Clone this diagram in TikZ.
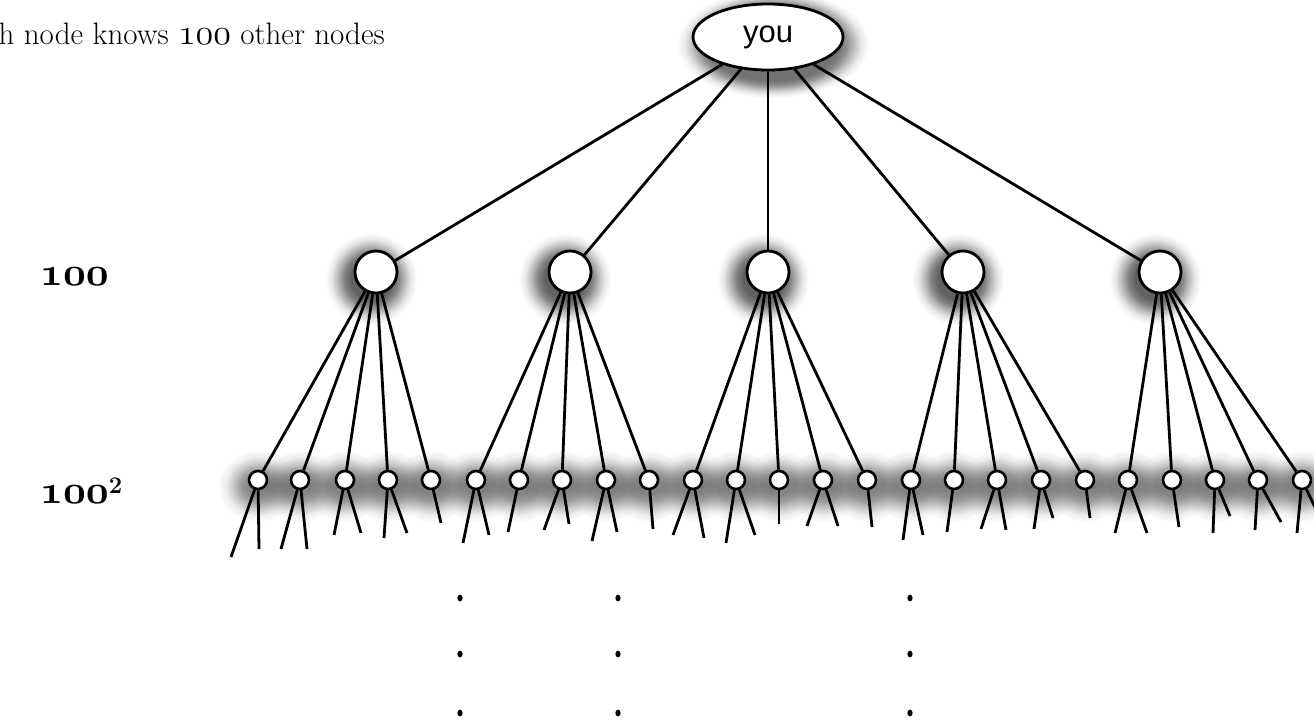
\documentclass[tikz,border=0pt]{standalone}
\usepackage{fontspec}
\newfontfamily\helvfont{Liberation Sans}
\usetikzlibrary{shapes.geometric,fadings}
\newcommand\osnum[2]{\scalebox{#1}{\fontencoding{OML}\fontfamily{cmm}\fontshape{it}\fontsize{24.88}{24.88}\selectfont #2}}
\pgfdeclareradialshading{glowAshade}{\pgfpointorigin}{color(0bp)=(white); color(11bp)=(white); color(14.5bp)=(white!80!black); color(18bp)=(white!45!black); color(21.5bp)=(white!15!black); color(25bp)=(black); color(50bp)=(black)}
\pgfdeclarefading{glowA}{\pgfuseshading{glowAshade}}
\pgfdeclareradialshading{glowBshade}{\pgfpointorigin}{color(0bp)=(white); color(17bp)=(white); color(19bp)=(white!80!black); color(21bp)=(white!45!black); color(23bp)=(white!15!black); color(25bp)=(black); color(50bp)=(black)}
\pgfdeclarefading{glowB}{\pgfuseshading{glowBshade}}
\pgfdeclareradialshading{glowCshade}{\pgfpointorigin}{color(0bp)=(white); color(6bp)=(white); color(10.75bp)=(white!80!black); color(15.5bp)=(white!45!black); color(20.25bp)=(white!15!black); color(25bp)=(black); color(50bp)=(black)}
\pgfdeclarefading{glowC}{\pgfuseshading{glowCshade}}
\begin{document}
\begin{tikzpicture}[x=1pt,y=-1pt,
  conn/.style={line width=2.8pt},
  youbox/.style={ellipse, draw, line width=2.8pt, fill=white, minimum width=150pt, minimum height=66pt, inner sep=0pt, font=\helvfont\fontsize{31}{31}\selectfont},
  bigc/.style={circle, draw, line width=2.8pt, fill=white, minimum size=42pt, inner sep=0pt},
  smallc/.style={circle, draw, line width=2.6pt, fill=white, minimum size=18pt, inner sep=0pt},
  lvl/.style={font=\bfseries\fontsize{34}{40}\selectfont, anchor=base west, inner sep=0pt}]
\useasboundingbox (0,0) rectangle (1314,721);
% shadows
\fill[black,opacity=0.55,path fading=glowB] (773,44) ellipse (96 and 54);
\foreach \x in {376,570,768,963,1160} \fill[black,opacity=0.62,path fading=glowA] (\x-5,279) circle (46);
\foreach \x in {258,300,345,388,431,476,519,562,606,649,693,736,779,823,867,911,954,997,1041,1085,1128,1172,1215,1258,1302}
  \fill[black,opacity=0.48,path fading=glowC] (\x,486) ellipse (40 and 36);
% nodes
\node[youbox] (you) at (768,37) {you};
\foreach \x [count=\i] in {376,570,768,963,1160} \node[bigc] (p\i) at (\x,272) {};
\foreach \x [count=\i] in {258,300,345,388,431,476,519,562,606,649,693,736,779,823,867,911,954,997,1041,1085,1128,1172,1215,1258,1302}
  \node[smallc] (c\i) at (\x,480) {};
% edges
\foreach \i in {1,...,5} \draw[conn] (you) -- (p\i);
\foreach \i in {1,...,5} \foreach \j in {1,...,5} {
  \pgfmathtruncatemacro\k{(\i-1)*5+\j}
  \draw[conn] (p\i) -- (c\k);
}
\foreach \k/\ex/\ey [count=\n] in {1/231/557, 1/259/549, 2/281/549, 2/307/549, 3/334/535, 3/361/533, 4/384/538, 4/407/533, 5/441/523,
  6/463/543, 6/489/535, 7/508/532, 8/544/530, 8/569/524, 9/592/541, 9/617/532, 10/653/529,
  11/673/535, 11/704/538, 12/726/543, 12/755/535, 13/779/524, 14/807/526, 14/838/526, 15/872/527,
  16/903/540, 16/923/535, 17/947/532, 18/981/529, 18/1006/530, 19/1034/529, 19/1053/518, 20/1090/518,
  21/1115/533, 21/1147/533, 22/1179/527, 23/1213/533, 23/1230/516, 24/1255/530, 24/1281/522, 25/1297/533, 25/1322/522} {
  \coordinate (e\n) at (\ex,\ey);
  \draw[conn] (c\k) -- (e\n);
}
% dots
\foreach \x in {460,618,910} \foreach \y in {598,654,713} \fill (\x,\y) ellipse (2.6 and 3.4);
% texts
\node[anchor=base east, font=\fontsize{31}{36}\selectfont, inner sep=0pt] (title) at (385,44) {each node knows \osnum{1.45}{100} other nodes};
\node[lvl] (n1) at (40,285) {\osnum{1.6}{100}};
\node[lvl] (n2) at (40,503) {\osnum{1.6}{100}\textsuperscript{2}};
\end{tikzpicture}
\end{document}
